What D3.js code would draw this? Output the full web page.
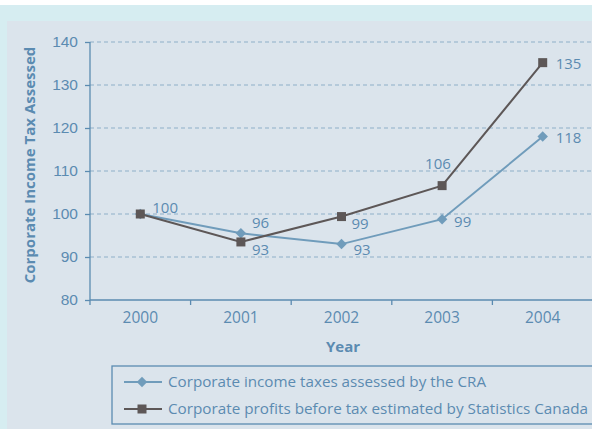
<!DOCTYPE html>
<html>
<head>
<meta charset="utf-8">
<script src="https://cdn.jsdelivr.net/npm/d3@7"></script>
<style>
  body { margin: 0; background: #ffffff; }
  svg { display: block; font-family: "Open Sans", sans-serif; }
</style>
</head>
<body>
<div id="chart"></div>
<script>
// data
var years = ["2000", "2001", "2002", "2003", "2004"];
var craValues = [100, 95.5, 93, 98.8, 118];
var craLabels = ["100", "96", "93", "99", "118"];
var statsValues = [100, 93.5, 99.4, 106.6, 135.2];
var statsLabels = ["", "93", "99", "106", "135"];
var yTicks = [80, 90, 100, 110, 120, 130, 140];
var seriesNames = ["Corporate income taxes assessed by the CRA",
                   "Corporate profits before tax estimated by Statistics Canada"];

var W = 592, H = 429;
var axisCol = "#5b8bb1", craCol = "#709cbb", statsCol = "#5d5757";

var svg = d3.select("#chart").append("svg")
    .attr("width", W)
    .attr("height", H);

// backgrounds
svg.append("rect").attr("x", 0).attr("y", 5).attr("width", W).attr("height", H - 5).attr("fill", "#d6edf1");
svg.append("rect").attr("x", 7).attr("y", 21).attr("width", W - 7).attr("height", H - 21).attr("fill", "#dbe4ec");

var x = d3.scaleBand().domain(years).range([90, 593]);
var y = d3.scaleLinear().domain([80, 140]).range([300, 42]);

// grid
svg.append("g").selectAll("line")
    .data(yTicks.filter(d => d > 80))
    .join("line")
    .attr("x1", 90).attr("x2", W)
    .attr("y1", d => y(d)).attr("y2", d => y(d))
    .attr("stroke", "#8eafc8")
    .attr("stroke-width", 1)
    .attr("stroke-dasharray", "4,3");

// y axis
var yAxis = svg.append("g")
    .attr("transform", "translate(90,0)")
    .call(d3.axisLeft(y).tickValues(yTicks).tickSize(5).tickPadding(7));
yAxis.select(".domain").attr("stroke", axisCol).attr("stroke-width", 1.3).attr("d", "M0,300V42");
yAxis.selectAll(".tick line").attr("stroke", axisCol).attr("stroke-width", 1.3);
yAxis.selectAll(".tick text").attr("fill", axisCol).attr("font-size", 15.5);

// x axis
var xAxis = svg.append("g")
    .attr("transform", "translate(0,300)");
xAxis.append("line").attr("x1", 90).attr("x2", W).attr("y1", 0).attr("y2", 0)
    .attr("stroke", axisCol).attr("stroke-width", 1.3);
xAxis.selectAll("line.tk")
    .data(years)
    .join("line")
    .attr("class", "tk")
    .attr("x1", d => x(d)).attr("x2", d => x(d))
    .attr("y1", 0).attr("y2", 5)
    .attr("stroke", axisCol).attr("stroke-width", 1.3);
xAxis.selectAll("text")
    .data(years)
    .join("text")
    .attr("x", d => x(d) + x.bandwidth() / 2)
    .attr("y", 18)
    .attr("dy", "0.35em")
    .attr("text-anchor", "middle")
    .attr("fill", axisCol)
    .attr("font-size", 15.5)
    .text(d => d);

// axis titles
svg.append("text")
    .attr("x", 343).attr("y", 347)
    .attr("dy", "0.35em")
    .attr("text-anchor", "middle")
    .attr("fill", axisCol)
    .attr("font-size", 15)
    .attr("font-weight", "bold")
    .text("Year");

svg.append("text")
    .attr("transform", "translate(30,165) rotate(-90)")
    .attr("text-anchor", "middle")
    .attr("dy", "0.35em")
    .attr("fill", axisCol)
    .attr("font-size", 15)
    .attr("font-weight", "bold")
    .text("Corporate Income Tax Assessed");

var cx = d => x(d) + x.bandwidth() / 2;
var line = d3.line().x(d => cx(d.year)).y(d => y(d.v));

var cra = years.map((yr, i) => ({year: yr, v: craValues[i], lab: craLabels[i]}));
var stats = years.map((yr, i) => ({year: yr, v: statsValues[i], lab: statsLabels[i]}));

svg.append("path").datum(cra)
    .attr("d", line).attr("fill", "none")
    .attr("stroke", craCol).attr("stroke-width", 2);
svg.selectAll("path.dia")
    .data(cra)
    .join("path")
    .attr("class", "dia")
    .attr("d", d3.symbol().type(d3.symbolDiamond2).size(70))
    .attr("transform", d => "translate(" + cx(d.year) + "," + y(d.v) + ")")
    .attr("fill", craCol);

svg.append("path").datum(stats)
    .attr("d", line).attr("fill", "none")
    .attr("stroke", statsCol).attr("stroke-width", 2);
svg.selectAll("rect.sq")
    .data(stats)
    .join("rect")
    .attr("class", "sq")
    .attr("x", d => cx(d.year) - 4.5)
    .attr("y", d => y(d.v) - 4.5)
    .attr("width", 9).attr("height", 9)
    .attr("fill", statsCol);

// value labels (offsets from the point)
var craOff = [[12, -6], [11, -11], [12, 6], [12, 3], [13, 1]];
var statsOff = [[0, 0], [11, 8], [10, 7], [-17, -22], [13, 1]];

svg.selectAll("text.cl")
    .data(cra)
    .join("text")
    .attr("class", "cl")
    .attr("x", (d, i) => cx(d.year) + craOff[i][0])
    .attr("y", (d, i) => y(d.v) + craOff[i][1])
    .attr("dy", "0.35em")
    .attr("fill", axisCol)
    .attr("font-size", 15)
    .text(d => d.lab);

svg.selectAll("text.sl")
    .data(stats)
    .join("text")
    .attr("class", "sl")
    .attr("x", (d, i) => cx(d.year) + statsOff[i][0])
    .attr("y", (d, i) => y(d.v) + statsOff[i][1])
    .attr("dy", "0.35em")
    .attr("fill", axisCol)
    .attr("font-size", 15)
    .text(d => d.lab);

// legend
var lg = svg.append("g");
lg.append("rect")
    .attr("x", 112).attr("y", 366).attr("width", 500).attr("height", 58)
    .attr("fill", "none").attr("stroke", axisCol).attr("stroke-width", 1.3);
var legCols = [craCol, statsCol];
seriesNames.forEach(function(name, i) {
    var ly = 382 + i * 27;
    lg.append("line").attr("x1", 124).attr("x2", 162).attr("y1", ly).attr("y2", ly)
        .attr("stroke", legCols[i]).attr("stroke-width", 2);
    if (i === 0) {
        lg.append("path")
            .attr("d", d3.symbol().type(d3.symbolDiamond2).size(70))
            .attr("transform", "translate(142," + ly + ")")
            .attr("fill", craCol);
    } else {
        lg.append("rect").attr("x", 137.5).attr("y", ly - 4.5).attr("width", 9).attr("height", 9)
            .attr("fill", statsCol);
    }
    lg.append("text")
        .attr("x", 168).attr("y", ly).attr("dy", "0.35em")
        .attr("fill", axisCol).attr("font-size", 15)
        .attr("textLength", i === 0 ? 318 : 420)
        .attr("lengthAdjust", "spacingAndGlyphs")
        .text(name);
});
</script>
</body>
</html>
